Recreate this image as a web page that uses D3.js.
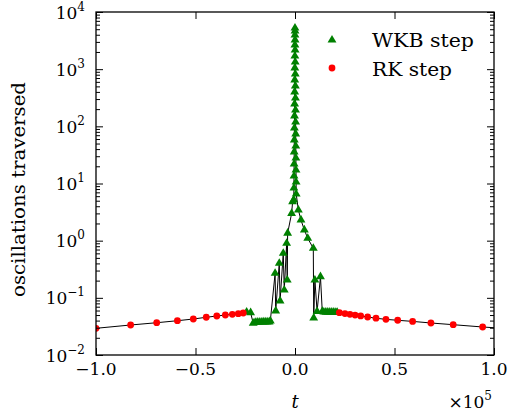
<!DOCTYPE html>
<html><head><meta charset="utf-8">
<script src="https://cdn.jsdelivr.net/npm/d3@7"></script>
<style>body{margin:0;background:#fff}svg{display:block}</style>
</head><body>
<script>
// t in units of 1e5
const rkT = [-1.0, -0.826, -0.695, -0.591, -0.511, -0.446, -0.393, -0.350, -0.315, -0.285, -0.260,
  0.223, 0.251, 0.276, 0.302, 0.330, 0.365, 0.407, 0.457, 0.516, 0.591, 0.683, 0.795, 0.943, 1.10];
const rkV = [0.0293, 0.0335, 0.0367, 0.0398, 0.0426, 0.0457, 0.0481, 0.0501, 0.0515, 0.0528, 0.0543,
  0.0550, 0.0530, 0.0515, 0.0500, 0.0482, 0.0462, 0.0440, 0.0420, 0.0405, 0.0387, 0.0363, 0.0339, 0.0309, 0.0285];

const wkbT = [-0.243, -0.223, -0.210, -0.200, -0.190, -0.180, -0.170, -0.160, -0.150, -0.140, -0.130, -0.124,
  -0.100, -0.097, -0.079, -0.075, -0.059, -0.054, -0.042, -0.039, -0.037, -0.017, -0.012,
  -0.0060, -0.0055, -0.0050, -0.0045, -0.0040, -0.0035, -0.0030, -0.0025, -0.0020, -0.0016, -0.0012, -0.0009, -0.0006, -0.0004, -0.0002, -0.0001,
  0.0001, 0.0003, 0.0006, 0.0010, 0.0014, 0.0018, 0.0022, 0.0026, 0.0030, 0.0035, 0.0040, 0.0045, 0.0050, 0.0055, 0.0060,
  0.017, 0.030, 0.047, 0.064, 0.092, 0.094, 0.100, 0.111, 0.128, 0.137,
  0.145, 0.155, 0.165, 0.175, 0.185, 0.195, 0.205, 0.212];
const wkbV = [0.0565, 0.0550, 0.0360, 0.0372, 0.0375, 0.0376, 0.0377, 0.0378, 0.0378, 0.0379, 0.0380, 0.0394,
  0.269, 0.0589, 0.402, 0.0881, 0.601, 0.137, 0.90, 0.205, 1.35, 3.0, 4.8,
  5.15, 8.34, 13.5, 21.9, 35.6, 57.7, 93.5, 152, 246, 399, 647, 1050, 1700, 2650, 3960, 5250,
  4650, 3240, 2160, 1335, 823, 508, 313, 193, 119, 73.5, 45.3, 27.9, 17.2, 10.6, 6.55,
  3.44, 2.3, 1.54, 1.10, 0.736, 0.0444, 0.205, 0.058, 0.234, 0.058,
  0.0565, 0.0563, 0.0562, 0.0562, 0.0561, 0.0560, 0.0558, 0.0556];

const xTicks = [-1.0, -0.5, 0.0, 0.5, 1.0];
const xTickLabels = ["\u22121.0", "\u22120.5", "0.0", "0.5", "1.0"];
const yExps = [-2, -1, 0, 1, 2, 3, 4];
const seriesNames = ["WKB step", "RK step"];

const W = 510, H = 417;
const L = 96, R = 494, T = 12, B = 355;
const serif = "'DejaVu Serif', serif";

const svg = d3.select("body").append("svg").attr("width", W).attr("height", H);
const x = d3.scaleLinear().domain([-1, 1]).range([L, R]);
const y = d3.scaleLog().domain([1e-2, 1e4]).range([B, T]);

svg.append("defs").append("clipPath").attr("id", "clip")
  .append("rect").attr("x", L).attr("y", T).attr("width", R - L).attr("height", B - T);

// combined time-ordered trajectory
const all = rkT.map((t, i) => ({t, v: rkV[i]})).concat(wkbT.map((t, i) => ({t, v: wkbV[i]})))
  .sort((a, b) => a.t - b.t);
const g = svg.append("g").attr("clip-path", "url(#clip)");
g.append("path").datum(all)
  .attr("d", d3.line().x(d => x(d.t)).y(d => y(d.v)))
  .attr("fill", "none").attr("stroke", "#000").attr("stroke-width", 1);

const tri = d3.symbol().type(d3.symbolTriangle).size(34);
g.selectAll("path.w").data(wkbT.map((t, i) => ({t, v: wkbV[i]}))).join("path")
  .attr("class", "w").attr("d", tri)
  .attr("transform", d => `translate(${x(d.t)},${y(d.v)})`)
  .attr("fill", "#008000");
g.selectAll("circle.r").data(rkT.map((t, i) => ({t, v: rkV[i]}))).join("circle")
  .attr("class", "r").attr("cx", d => x(d.t)).attr("cy", d => y(d.v)).attr("r", 3.4)
  .attr("fill", "#ff0000");

// axes (ticks inward, all sides)
const minorVals = [];
for (let e = -2; e < 4; e++) for (let k = 2; k <= 9; k++) minorVals.push(k * Math.pow(10, e));
const majorVals = yExps.map(e => Math.pow(10, e));

const axL = d3.axisLeft(y).tickValues(majorVals).tickSize(-7).tickFormat("");
const axR = d3.axisRight(y).tickValues(majorVals).tickSize(-7).tickFormat("");
const axLm = d3.axisLeft(y).tickValues(minorVals).tickSize(-4).tickFormat("");
const axRm = d3.axisRight(y).tickValues(minorVals).tickSize(-4).tickFormat("");
const axB = d3.axisBottom(x).tickValues(xTicks).tickSize(-7).tickFormat("");
const axT = d3.axisTop(x).tickValues(xTicks).tickSize(-7).tickFormat("");

function addAxis(ax, tx, ty) {
  const a = svg.append("g").attr("transform", `translate(${tx},${ty})`).call(ax);
  a.select(".domain").remove();
  a.selectAll("line").attr("stroke", "#000").attr("stroke-width", 1);
}
addAxis(axL, L, 0); addAxis(axR, R, 0); addAxis(axLm, L, 0); addAxis(axRm, R, 0);
addAxis(axB, 0, B); addAxis(axT, 0, T);
svg.append("rect").attr("x", L).attr("y", T).attr("width", R - L).attr("height", B - T)
  .attr("fill", "none").attr("stroke", "#000").attr("stroke-width", 1.3);

// y tick labels
const yl = svg.append("g").attr("font-family", serif).attr("fill", "#000");
yExps.forEach(e => {
  const t = yl.append("text").attr("x", 85).attr("y", y(Math.pow(10, e)) + 6.5)
    .attr("text-anchor", "end").attr("font-size", 17);
  t.append("tspan").text("10");
  t.append("tspan").attr("dy", -8).attr("font-size", 12).text(e < 0 ? "\u2212" + (-e) : String(e));
});
// x tick labels
xTicks.forEach((v, i) => {
  svg.append("text").attr("x", x(v)).attr("y", 375).attr("text-anchor", "middle")
    .attr("font-family", serif).attr("font-size", 17).text(xTickLabels[i]);
});
// axis titles
svg.append("text").attr("x", x(0)).attr("y", 408).attr("text-anchor", "middle")
  .attr("font-family", serif).attr("font-style", "italic").attr("font-size", 18).text("t");
const ex = svg.append("text").attr("x", 492).attr("y", 408).attr("text-anchor", "end")
  .attr("font-family", serif).attr("font-size", 17);
ex.append("tspan").text("\u00d710");
ex.append("tspan").attr("dy", -8).attr("font-size", 12).text("5");
svg.append("text").attr("transform", `translate(25,189.5) rotate(-90)`)
  .attr("text-anchor", "middle").attr("font-family", serif).attr("font-size", 18)
  .attr("textLength", 215).attr("lengthAdjust", "spacingAndGlyphs")
  .text("oscillations traversed");

// legend
const legendWidths = [102, 80];
const lg = svg.append("g");
lg.append("path").attr("d", tri).attr("transform", `translate(332,40)`).attr("fill", "#008000");
lg.append("circle").attr("cx", 332).attr("cy", 68).attr("r", 3.4).attr("fill", "#ff0000");
seriesNames.forEach((n, i) => {
  lg.append("text").attr("x", 372).attr("y", 47 + i * 29).attr("font-family", serif)
    .attr("font-size", 19).attr("textLength", legendWidths[i]).attr("lengthAdjust", "spacingAndGlyphs")
    .text(n);
});
</script>
</body></html>
